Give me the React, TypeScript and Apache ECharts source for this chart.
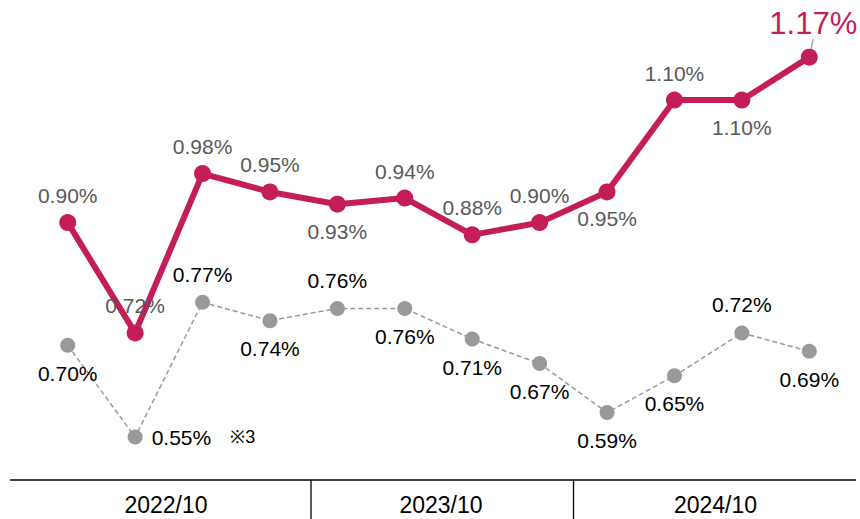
import React, { useEffect, useRef } from "react";
import * as echarts from "echarts";

const categories = ["1", "2", "3", "4", "5", "6", "7", "8", "9", "10", "11", "12"];
const redValues = [0.9, 0.72, 0.98, 0.95, 0.93, 0.94, 0.88, 0.9, 0.95, 1.1, 1.1, 1.17];
const grayValues = [0.7, 0.55, 0.77, 0.74, 0.76, 0.76, 0.71, 0.67, 0.59, 0.65, 0.72, 0.69];
const redLabelPos = ["top", "top", "top", "top", "bottom", "top", "top", "top", "bottom", "top", "bottom", "top"];
const grayLabelPos = ["bottom", "right", "top", "bottom", "top", "bottom", "bottom", "bottom", "bottom", "bottom", "top", "bottom"];
const groupLabels = ["2022/10", "2023/10", "2024/10"];
const noteMark = "※3";

const FONT = "'Liberation Sans', Arial, Helvetica, sans-serif";
const RED = "#C41E5A";
const GRAY = "#999999";

export default function App() {
  const ref = useRef<HTMLDivElement>(null);
  useEffect(() => {
    if (!ref.current) return;
    const chart = echarts.init(ref.current, undefined, { renderer: "svg" });
    const fmt = (v: number) => v.toFixed(2) + "%";
    const last = redValues.length - 1;
    const redData = redValues.map((v, i) => {
      if (i === last) {
        return {
          value: v,
          label: {
            position: "top",
            distance: 0,
            fontSize: 31,
            color: RED,
          },
          labelLine: { show: true, length2: 0, lineStyle: { color: "#aaaaaa", width: 1.5 } },
        };
      }
      return { value: v, label: { position: redLabelPos[i] } };
    });
    const grayData = grayValues.map((v, i) => {
      if (grayLabelPos[i] === "right") {
        return {
          value: v,
          label: {
            position: "right",
            distance: 9,
            formatter: (p: any) => fmt(p.value) + "{s|" + noteMark + "}",
            rich: { s: { fontSize: 18, fontFamily: FONT, color: "#000", padding: [0, 0, 0, 19] } },
          },
        };
      }
      return { value: v, label: { position: grayLabelPos[i] } };
    });
    // bottom band positions (layout)
    const dividerXs = [311, 573.5];
    const groupCenters = [166, 441, 715.5];
    const graphic: any[] = [
      { type: "line", shape: { x1: 10, y1: 480, x2: 856, y2: 480 }, style: { stroke: "#000", lineWidth: 1.3 } },
      ...dividerXs.map((x) => ({
        type: "line",
        shape: { x1: x, y1: 480, x2: x, y2: 519 },
        style: { stroke: "#000", lineWidth: 1.3 },
      })),
      ...groupLabels.map((t, i) => ({
        type: "text",
        x: groupCenters[i],
        y: 504.5,
        style: { text: t, fontSize: 23, fontFamily: FONT, fill: "#000", align: "center", verticalAlign: "middle" },
      })),
    ];
    chart.setOption({
      animation: false,
      grid: { left: 34, right: 17, top: 2, bottom: 39 },
      xAxis: {
        type: "category",
        data: categories,
        boundaryGap: true,
        axisLine: { show: false },
        axisTick: { show: false },
        axisLabel: { show: false },
      },
      yAxis: {
        type: "value",
        min: 0.48,
        max: 1.26,
        show: false,
        splitLine: { show: false },
      },
      graphic,
      series: [
        {
          type: "line",
          data: grayData,
          symbol: "circle",
          symbolSize: 15,
          itemStyle: { color: GRAY },
          lineStyle: { color: GRAY, width: 1.5, type: [5, 3] },
          label: {
            show: true,
            distance: 10,
            formatter: (p: any) => fmt(p.value),
            fontSize: 21,
            fontFamily: FONT,
            color: "#000",
          },
          z: 2,
        },
        {
          type: "line",
          data: redData,
          symbol: "circle",
          symbolSize: 17,
          itemStyle: { color: RED },
          lineStyle: { color: RED, width: 6 },
          label: {
            show: true,
            distance: 8,
            formatter: (p: any) => fmt(p.value),
            fontSize: 21,
            fontFamily: FONT,
            color: "#595959",
          },
          labelLayout: (params: any) =>
            params.dataIndex === last ? { dx: 4, dy: -10 } : {},
          z: 3,
        },
      ],
    });
    return () => chart.dispose();
  }, []);
  return <div ref={ref} style={{ position: "absolute", left: 0, top: 0, width: 860, height: 519 }} />;
}
